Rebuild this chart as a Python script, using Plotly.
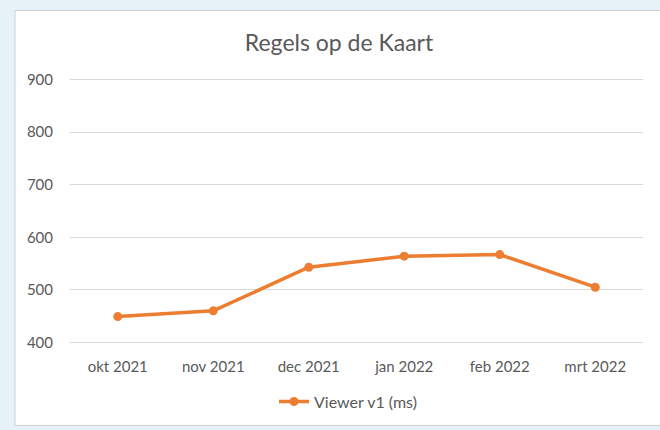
import plotly.graph_objects as go

months = ["okt 2021", "nov 2021", "dec 2021", "jan 2022", "feb 2022", "mrt 2022"]
viewer_v1 = [449, 460, 543, 564, 567, 505]
y_ticks = [400, 500, 600, 700, 800, 900]

W, H = 660, 430
L, R, T, B = 70, 17, 77, 83
pw, ph = W - L - R, H - T - B

def px_x(p):
    return (p - L) / pw

def px_y(p):
    return (H - B - p) / ph

fig = go.Figure()
fig.add_trace(go.Scatter(
    x=months, y=viewer_v1, mode="lines+markers", name="Viewer v1 (ms)",
    line=dict(color="#ED7D31", width=3.5),
    marker=dict(color="#ED7D31", size=9),
))

fig.add_shape(type="rect", xref="paper", yref="paper",
              x0=px_x(15), x1=px_x(665), y0=px_y(428), y1=px_y(10),
              fillcolor="white", line=dict(color="#d0d0d0", width=1), layer="below")

fig.update_layout(
    width=W, height=H,
    margin=dict(l=L, r=R, t=T, b=B),
    paper_bgcolor="#e6f2f8",
    plot_bgcolor="rgba(0,0,0,0)",
    font=dict(family="Lato, Carlito, sans-serif", color="#595959", size=15),
    title=dict(text="Regels op de Kaart", x=339 / W, xanchor="center",
               y=1 - 43 / H, yanchor="middle",
               font=dict(size=23, color="#595959")),
    showlegend=True,
    legend=dict(orientation="h", x=px_x(348), xanchor="center",
                y=px_y(404), yanchor="middle",
                font=dict(size=16, color="#595959"), bgcolor="rgba(0,0,0,0)"),
    xaxis=dict(type="category", showgrid=False, showline=False, ticks="",
               tickfont=dict(size=15, color="#595959"), ticklabelstandoff=11,
               range=[-0.5, 5.5], fixedrange=True),
    yaxis=dict(range=[395, 905], tickvals=y_ticks, showgrid=True, gridcolor="#d9d9d9",
               gridwidth=1.2, zeroline=False, showline=False, ticks="",
               tickfont=dict(size=15, color="#595959"), ticklabelstandoff=16,
               fixedrange=True),
)

fig.write_html("out.html", config={"displayModeBar": False},
               post_script="document.body.style.margin='0';")
